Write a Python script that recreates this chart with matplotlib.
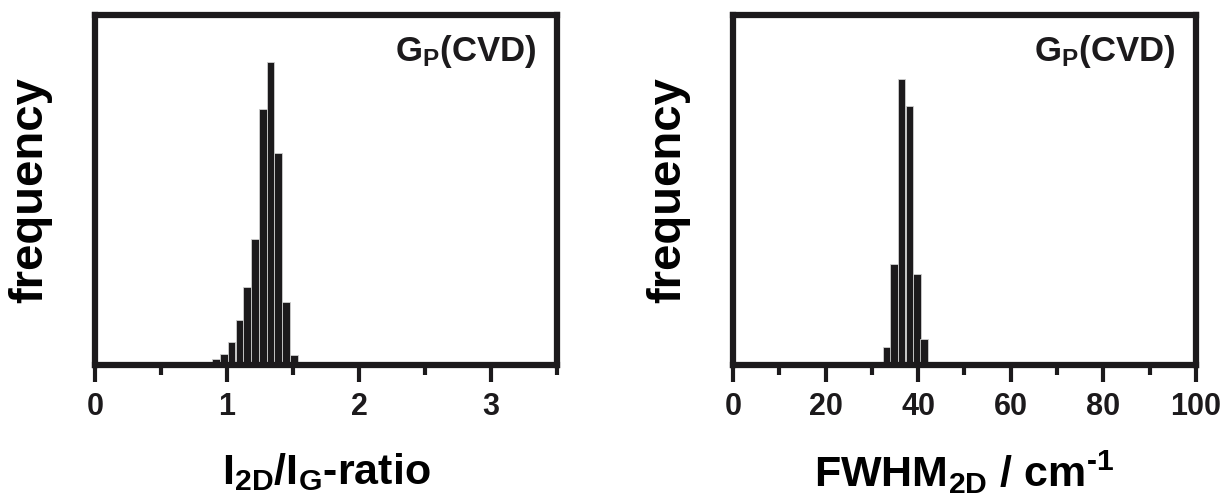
import numpy as np
import matplotlib
matplotlib.use("Agg")
import matplotlib.pyplot as plt
from matplotlib.ticker import MultipleLocator, NullLocator

plt.rcParams['font.family'] = ['Liberation Sans', 'DejaVu Sans']
plt.rcParams['font.weight'] = 'bold'
plt.rcParams['mathtext.fontset'] = 'custom'
plt.rcParams['mathtext.rm'] = 'Liberation Sans:bold'
plt.rcParams['mathtext.it'] = 'Liberation Sans:bold'
plt.rcParams['mathtext.bf'] = 'Liberation Sans:bold'
plt.rcParams['mathtext.default'] = 'regular'
plt.rcParams['axes.unicode_minus'] = False

# I2D/IG ratio histogram (bin left edges, counts)
ratio_edges = [0.830, 0.889, 0.947, 1.005, 1.066, 1.124, 1.182, 1.242, 1.301, 1.358, 1.417, 1.477]
ratio_counts = [1, 6, 11, 23, 45, 78, 126, 256, 303, 212, 63, 10]
ratio_width = 0.058

# FWHM 2D histogram
fwhm_edges = [32.4, 34.0, 35.6, 37.3, 38.9, 40.5, 42.1]
fwhm_counts = [18, 101, 286, 259, 91, 26, 1]
fwhm_width = 1.62

bar_color = '#1c1a1c'
lw_spine = 4.5

fig = plt.figure(figsize=(12.29, 5.01), dpi=100)
ax1 = fig.add_axes([0.0773, 0.271, 0.376, 0.699])
ax2 = fig.add_axes([0.5965, 0.271, 0.3765, 0.699])


def style(ax, xmax, major, minor, xlabel):
    ax.set_xlim(0, xmax)
    ax.set_ylim(0, 350)
    for s in ax.spines.values():
        s.set_linewidth(lw_spine)
        s.set_color(bar_color)
    ax.xaxis.set_major_locator(MultipleLocator(major))
    ax.xaxis.set_minor_locator(MultipleLocator(minor))
    ax.yaxis.set_major_locator(NullLocator())
    ax.tick_params(axis='x', which='major', direction='out', length=12, width=3,
                   labelsize=22, pad=7, colors=bar_color)
    ax.tick_params(axis='x', which='minor', direction='out', length=7, width=3,
                   colors=bar_color)
    for lab in ax.get_xticklabels():
        lab.set_fontweight('bold')
    ax.set_ylabel('frequency', fontsize=34, fontweight='bold', va='center')
    ax.yaxis.set_label_coords(-0.141, 0.5)
    ax.set_xlabel(xlabel, fontsize=31, fontweight='bold', va='center')
    ax.xaxis.set_label_coords(0.5, -0.305)
    ax.text(0.955, 0.95, r'G$_\mathregular{P}$(CVD)', transform=ax.transAxes,
            ha='right', va='top', fontsize=25, fontweight='bold', color=bar_color)


ax1.bar(ratio_edges, ratio_counts, width=ratio_width, align='edge',
        color=bar_color, edgecolor='#cfcfcf', linewidth=0.6, zorder=2)
style(ax1, 3.5, 1, 0.5, r'I$_\mathregular{2D}$/I$_\mathregular{G}$-ratio')

ax2.bar(fwhm_edges, fwhm_counts, width=fwhm_width, align='edge',
        color=bar_color, edgecolor='#cfcfcf', linewidth=0.6, zorder=2)
style(ax2, 100, 20, 10, 'FWHM$_\\mathregular{2D}$ / cm$^\\mathregular{\u20101}$')

fig.savefig('out.png', dpi=100)
